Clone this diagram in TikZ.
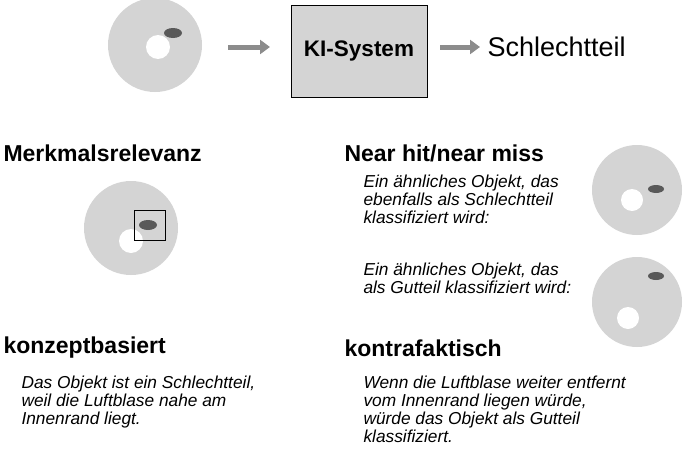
\documentclass[tikz,border=0pt]{standalone}
\usepackage{fontspec}
\setmainfont{Liberation Sans}
\usetikzlibrary{arrows.meta}
\begin{document}
\begin{tikzpicture}[x=1pt,y=-1pt,
  disc/.style={fill=black!17},
  hole/.style={fill=white},
  bubble/.style={fill=black!65},
  garrow/.style={draw=black!45,line width=5pt,-{Triangle[length=10pt,width=14pt]}},
  head/.style={anchor=west,font=\bfseries\fontsize{23}{26}\selectfont},
  txt/.style={anchor=north west,align=left,font=\itshape\fontsize{17.3}{18}\selectfont}]
\useasboundingbox (0,0) rectangle (685,455);
% top
\fill[disc] (155,45) circle (47);
\fill[hole] (158,47) circle (12);
\fill[bubble] (173,33) ellipse (9 and 5);
\node[draw,fill=black!17,line width=0.8pt,minimum width=136pt,minimum height=92pt,font=\bfseries\fontsize{22.5}{26}\selectfont] (ki) at (359,51) {KI-System};
\node[anchor=west,font=\fontsize{27}{30}\selectfont] (s) at (484,47) {Schlechtteil};
\coordinate (a1) at (228,47);
\coordinate (a2) at (270,47);
\coordinate (a3) at (440,47);
\coordinate (a4) at (480,47);
\draw[garrow] (a1) -- (a2);
\draw[garrow] (a3) -- (a4);
% Merkmalsrelevanz
\node[head] (m) at (0,153) {Merkmalsrelevanz};
\fill[disc] (131,228) circle (47);
\fill[hole] (131,241) circle (12);
\fill[bubble] (148,225) ellipse (9 and 5);
\draw[line width=0.8pt] (134,210) rectangle (165,240);
% Near hit
\node[head] (n) at (341,153) {Near hit/near miss};
\node[txt] (t1) at (360,171) {Ein ähnliches Objekt, das\\ebenfalls als Schlechtteil\\klassifiziert wird:};
\fill[disc] (637,190) circle (45);
\fill[hole] (632,200) circle (11);
\fill[bubble] (656,189) ellipse (8 and 4);
\node[txt] (t2) at (360,259) {Ein ähnliches Objekt, das\\als Gutteil klassifiziert wird:};
\fill[disc] (637,302) circle (45);
\fill[hole] (628,318) circle (11);
\fill[bubble] (656,276) ellipse (8 and 4);
% konzept
\node[head] (k) at (0,348) {konzeptbasiert};
\node[txt] (t3) at (18,372) {Das Objekt ist ein Schlechtteil,\\weil die Luftblase nahe am\\Innenrand liegt.};
\node[head] (kf) at (341,348) {kontrafaktisch};
\node[txt] (t4) at (360,372) {Wenn die Luftblase weiter entfernt\\vom Innenrand liegen würde,\\würde das Objekt als Gutteil\\klassifiziert.};
\end{tikzpicture}
\end{document}
